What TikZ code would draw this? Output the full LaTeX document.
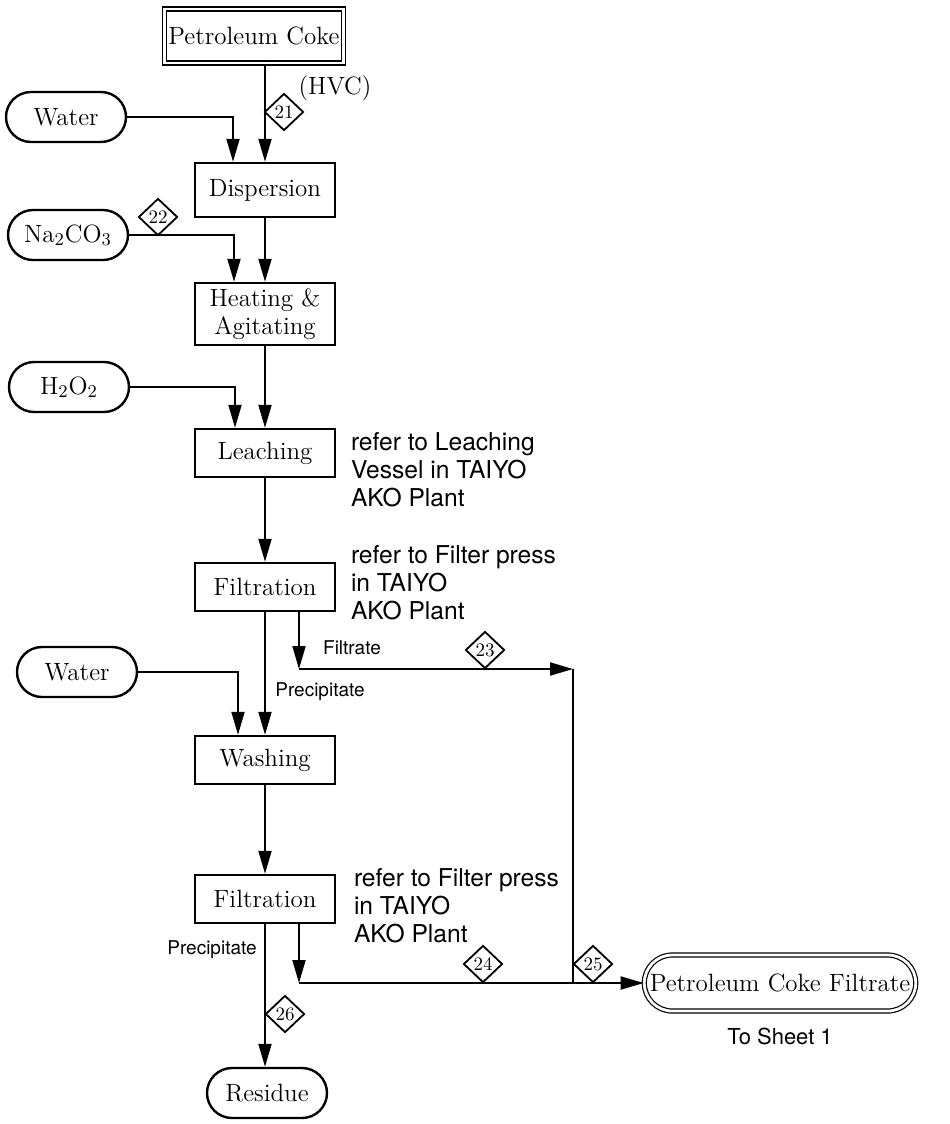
\documentclass[tikz,border=0pt]{standalone}
\usepackage{fontspec}
\setsansfont{TeX Gyre Heros}
\usetikzlibrary{shapes.geometric,shapes.misc,arrows.meta,calc}
\begin{document}
\begin{tikzpicture}[x=0.5pt,y=-0.5pt,
  line width=1pt,
  arr/.style={-{Triangle[length=11.5pt,width=6.5pt]}},
  proc/.style={draw,line width=1.2pt,minimum width=70pt,minimum height=24pt,
    font=\fontsize{12.5}{14}\selectfont,align=center,inner sep=2pt},
  pill/.style={draw,rounded rectangle,line width=1.2pt,minimum width=64pt,
    minimum height=25pt,font=\fontsize{12.5}{14}\selectfont,inner sep=2pt},
  tag/.style={draw,diamond,line width=0.9pt,minimum width=19.5pt,minimum height=18.5pt,
    inner sep=0pt,font=\fontsize{9.5}{9.5}\selectfont},
  note/.style={font=\sffamily\fontsize{12.3}{14}\selectfont,align=left,anchor=west,inner sep=0pt},
  small/.style={font=\sffamily\fontsize{9.5}{10}\selectfont,inner sep=0pt}]
\useasboundingbox (0,0) rectangle (949,1124);

% main column
\node[proc,double,double distance=1.4pt,line width=0.6pt,minimum width=88pt,minimum height=27pt] (pc) at (254,36) {Petroleum Coke};
\node[font=\fontsize{12.5}{14}\selectfont] (hvc) at (335,88) {(HVC)};
\node[proc,minimum height=27pt] (disp) at (265,190) {Dispersion};
\node[proc,minimum height=31pt] (heat) at (265,314) {Heating \&\\Agitating};
\node[proc] (leach) at (265,453) {Leaching};
\node[proc] (filt1) at (265,587) {Filtration};
\node[proc] (wash) at (265,760) {Washing};
\node[proc] (filt2) at (265,899) {Filtration};
\node[pill] (res) at (267,1093) {Residue};

% inputs
\node[pill] (water1) at (66,117) {Water};
\node[pill] (soda) at (68,235) {Na$_2$CO$_3$};
\node[pill] (hyd) at (69,387) {H$_2$O$_2$};
\node[pill] (water2) at (77,672) {Water};

% notes
\node[note] (n1) at (350,470) {refer to Leaching\\Vessel in TAIYO\\AKO Plant};
\node[note] (n2) at (350,583) {refer to Filter press\\in TAIYO\\AKO Plant};
\node[note] (n3) at (353,906) {refer to Filter press\\in TAIYO\\AKO Plant};

% output
\node[draw,rounded rectangle,double,double distance=1.4pt,line width=0.6pt,
  minimum width=134pt,minimum height=28pt,inner sep=2pt,
  font=\fontsize{12.5}{14}\selectfont] (pcf) at (780,983) {Petroleum Coke Filtrate};
\node[font=\sffamily\fontsize{11}{12}\selectfont] (sheet) at (780,1036) {To Sheet 1};

% junctions
\coordinate (c1) at (299,669);
\coordinate (j1) at (573,669);
\coordinate (c2) at (299,983);
\coordinate (j2) at (573,983);

% main flow
\draw[arr] (pc.south -| disp.north) -- (disp.north);
\draw[arr] (disp) -- (heat);
\draw[arr] (heat) -- (leach);
\draw[arr] (leach) -- (filt1);
\draw[arr] (filt1) -- (wash);
\draw[arr] (wash) -- (filt2);
\draw[arr] (filt2.south) -- (filt2.south |- res.north);

% input lines
\draw[arr] (water1.east) -| ($(disp.north)+(-32,0)$);
\draw[arr] (soda.east) -| ($(heat.north)+(-31,0)$);
\draw[arr] (hyd.east) -| ($(leach.north)+(-30,0)$);
\draw[arr] (water2.east) -| ($(wash.north)+(-27,0)$);

% filtrate lines
\draw[arr] (filt1.south -| c1) -- (c1);
\draw[arr] (c1) -- (j1);
\draw (j1) -- (j2);
\draw[arr] (filt2.south -| c2) -- (c2);
\draw[arr] (c2) -- (pcf.west);

% stream tags
\node[tag] (t21) at (284,112) {21};
\node[tag] (t22) at (158,217) {22};
\node[tag] (t23) at (485,650) {23};
\node[tag] (t24) at (483,964) {24};
\node[tag] (t25) at (593,964) {25};
\node[tag] (t26) at (285,1014) {26};

% stream labels
\node[small] (lf) at (352,648) {Filtrate};
\node[small] (lp1) at (320,692) {Precipitate};
\node[small] (lp2) at (212,950) {Precipitate};
\end{tikzpicture}
\end{document}
